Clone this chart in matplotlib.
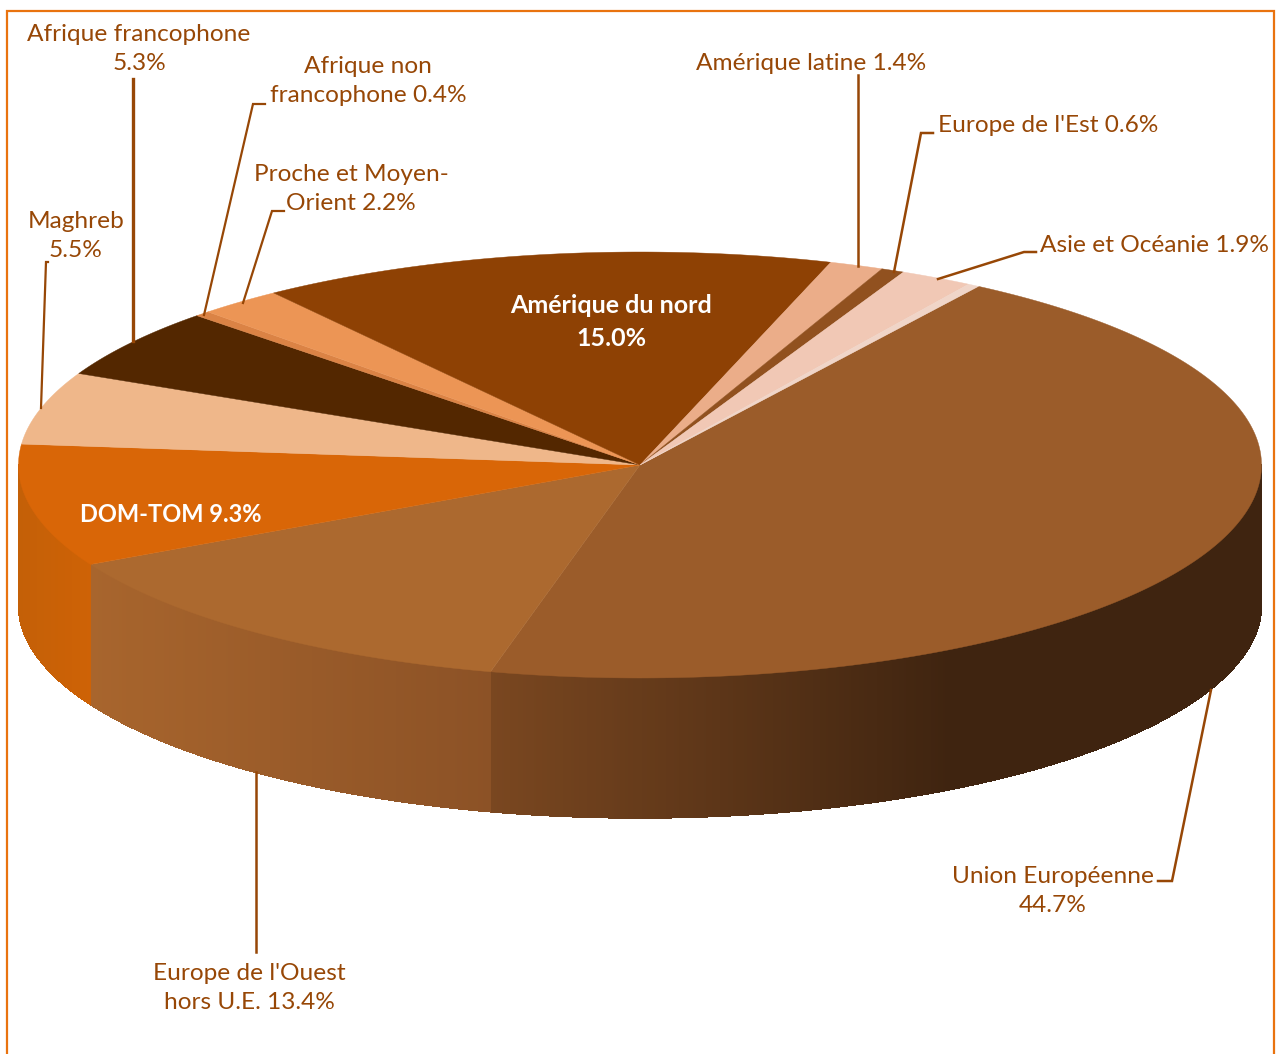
import numpy as np
import matplotlib
matplotlib.use("Agg")
import matplotlib.pyplot as plt
from matplotlib.collections import PolyCollection
from matplotlib.colors import to_rgb

plt.rcParams['font.family'] = ['Lato', 'DejaVu Sans']

# Parts in percent, clockwise from the start of Union Européenne
regions = ["Union Européenne", "Europe de l'Ouest hors U.E.", "DOM-TOM", "Maghreb",
           "Afrique francophone", "Afrique non francophone", "Proche et Moyen-Orient",
           "Amérique du nord", "Amérique latine", "Europe de l'Est", "Asie et Océanie", "Autres"]
shares = [44.7, 13.4, 9.3, 5.5, 5.3, 0.4, 2.2, 15.0, 1.4, 0.6, 1.9, 0.3]

top_colors = ['#9B5C2A', '#AC692F', '#D96607', '#EFB78A', '#532700', '#DB8345',
              '#EC9555', '#8E4104', '#EBAD89', '#91511F', '#F1C8B5', '#F0D5C8']
# side colours at the start and end of each visible wall
side_left = {'Union Européenne': '#7A4720', "Europe de l'Ouest hors U.E.": '#A8652D', 'DOM-TOM': '#C46007'}
side_right = {'Union Européenne': '#3F2410', "Europe de l'Ouest hors U.E.": '#8C5226', 'DOM-TOM': '#CE6206'}

TEXT = '#974706'
CX, CY, RX, RY = 640, 465, 621.5, 213
DEPTH = 140
START = 57.0


def rim(t):
    t = np.radians(t)
    return CX + RX * np.cos(t), CY - RY * np.sin(t)


fig = plt.figure(figsize=(12.76, 10.54), dpi=100)
ax = fig.add_axes([0, 0, 1, 1])
ax.set_xlim(0, 1276)
ax.set_ylim(1054, 0)
ax.axis('off')

# frame (runs off the bottom of the picture)
ax.plot([7, 7, 1274, 1274], [1060, 10.5, 10.5, 1060], color='#E9730F', lw=1.6, solid_joinstyle='miter')

edges = START - np.cumsum([0] + shares) * 360 / sum(shares)

# walls: thin vertical strips so that the shade can vary along x
for i, name in enumerate(regions):
    a0, a1 = edges[i], edges[i + 1]
    lo, hi = max(a1, -180), min(a0, 0)
    if lo >= hi:
        continue
    ts = np.linspace(hi, lo, int((hi - lo) * 4) + 2)
    xs, ys = rim(ts)
    polys, cols = [], []
    c_l = np.array(to_rgb(side_left[name]))
    c_r = np.array(to_rgb(side_right[name]))
    x_lo, x_hi = xs.min(), min(xs.max(), 950)
    for j in range(len(ts) - 1):
        polys.append([(xs[j], ys[j]), (xs[j + 1], ys[j + 1]),
                      (xs[j + 1], ys[j + 1] + DEPTH), (xs[j], ys[j] + DEPTH)])
        f = np.clip((xs[j] - x_lo) / (x_hi - x_lo), 0, 1)
        cols.append(c_l + (c_r - c_l) * f)
    # no antialiasing here, otherwise the strip seams show up as bands
    ax.add_collection(PolyCollection(polys, facecolors=cols, edgecolors=cols, linewidths=0.4,
                                     antialiaseds=False, zorder=2))

# top face
for i, col in enumerate(top_colors):
    ts = np.linspace(edges[i], edges[i + 1], 200)
    xs, ys = rim(ts)
    ax.fill(np.r_[CX, xs], np.r_[CY, ys], facecolor=col, edgecolor=col, lw=0.3, zorder=3)

# leader lines
leaders = [
    ([133, 133], [79, 341], 2.4),
    ([265, 253, 204], [104, 104, 315], 1.6),
    ([284, 272, 243], [211, 211, 303], 1.6),
    ([48, 46, 41], [262, 262, 408], 1.6),
    ([858, 858], [75, 266], 1.8),
    ([933, 921, 894], [133, 133, 272], 1.8),
    ([1036, 1024, 938], [252, 252, 279], 1.8),
    ([1158, 1172, 1211], [881, 881, 690], 1.8),
    ([256, 256], [952, 772], 1.8),
]
for xs, ys, w in leaders:
    ax.plot(xs, ys, color=TEXT, lw=w, zorder=4, solid_joinstyle='miter')

labels = [
    (139, 49, "Afrique francophone\n5.3%", TEXT, 'normal', 17.6),
    (368, 81, "Afrique non\nfrancophone 0.4%", TEXT, 'normal', 17.6),
    (351, 189, "Proche et Moyen-\nOrient 2.2%", TEXT, 'normal', 17.6),
    (76, 236, "Maghreb\n5.5%", TEXT, 'normal', 17.6),
    (811, 63, "Amérique latine 1.4%", TEXT, 'normal', 17.6),
    (1048, 125, "Europe de l'Est 0.6%", TEXT, 'normal', 17.6),
    (1154, 245, "Asie et Océanie 1.9%", TEXT, 'normal', 17.6),
    (1053, 891, "Union Européenne\n44.7%", TEXT, 'normal', 17.6),
    (249, 988, "Europe de l'Ouest\nhors U.E. 13.4%", TEXT, 'normal', 17.6),
    (611, 322, "Amérique du nord\n15.0%", 'white', 'bold', 18),
    (171, 515, "DOM-TOM 9.3%", 'white', 'bold', 17),
]
for x, y, s, c, w, fs in labels:
    ax.text(x, y, s, color=c, fontweight=w, fontsize=fs, ha='center', va='center',
            linespacing=1.5, zorder=5)

fig.savefig("out.png", dpi=100)
